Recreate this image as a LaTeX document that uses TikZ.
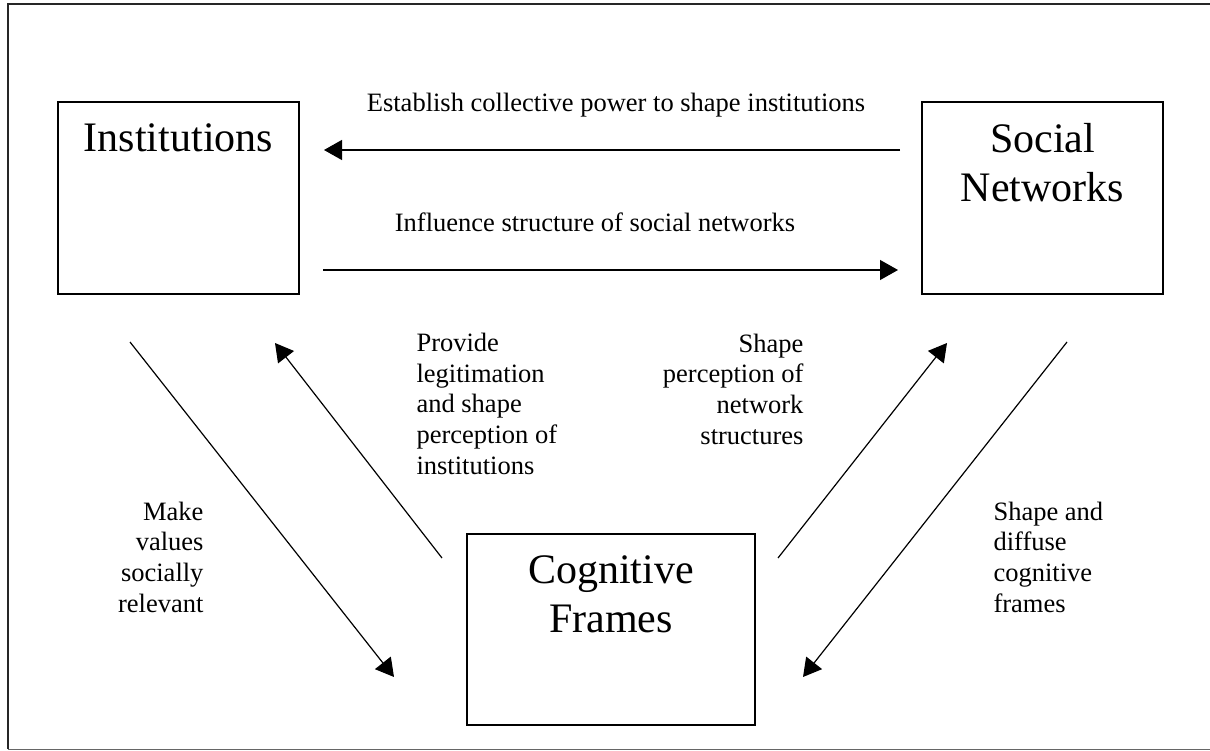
\documentclass[tikz,border=0pt]{standalone}
\usepackage{fontspec}
\setmainfont{Liberation Serif}
\usetikzlibrary{arrows.meta, positioning, calc}

\begin{document}
\begin{tikzpicture}[x=1pt, y=-1pt,
    box/.style={draw, line width=1.3pt, minimum height=192pt, inner sep=0pt},
    bigtext/.style={font=\fontsize{42}{49}\selectfont, align=center, anchor=base},
    lbl/.style={font=\fontsize{26.5}{30.6}\selectfont, anchor=base},
    link/.style={line width=1.2pt, -{Triangle[length=18pt, width=20pt]}}]
\useasboundingbox (0,0) rectangle (1210,751);
% === Outer frame ===
\draw[line width=2pt, black!85] (1212,4) -- (8,4) -- (8,749);
\draw[line width=1pt, black!60] (8,749) -- (1212,749);
% === Boxes ===
\node[box, minimum width=241pt] (inst) at (178.5,198) {};
\node[box, minimum width=241pt] (soc) at (1042.5,198) {};
\node[box, minimum width=288pt, minimum height=191pt] (cog) at (611,629.5) {};
% (base = last line of a wrapped text)
\node[bigtext, yshift=-50pt] (instT) at (inst.north) {Institutions};
\node[bigtext, yshift=-100pt] (socT) at (soc.north) {Social\\Networks};
\node[bigtext, yshift=-99pt] (cogT) at (cog.north) {Cognitive\\Frames};
% === Arrow ends ===
\coordinate (pw0) at (900,150); \coordinate (pw1) at (324,150);
\coordinate (in0) at (323,270); \coordinate (in1) at (898,270);
\coordinate (mv0) at (130,342); \coordinate (mv1) at (394,677);
\coordinate (lg0) at (442,558); \coordinate (lg1) at (275,343);
\coordinate (sp0) at (778,558); \coordinate (sp1) at (947,343);
\coordinate (df0) at (1067,342); \coordinate (df1) at (803,677);
\draw[link] (pw0) -- (pw1);
\draw[link] (in0) -- (in1);
\draw[link] (mv0) -- (mv1);
\draw[link] (lg0) -- (lg1);
\draw[link] (sp0) -- (sp1);
\draw[link] (df0) -- (df1);
% === Labels ===
\node[lbl] (pwL) at (616,112) {Establish collective power to shape institutions};
\node[lbl] (inL) at (595,232) {Influence structure of social networks};
\node[lbl, anchor=base west, align=left] (lgL) at (413,474) {Provide\\legitimation\\and shape\\perception of\\institutions};
\node[lbl, anchor=base east, align=right] (mvL) at (207,612) {Make\\values\\socially\\relevant};
\node[lbl, anchor=base east, align=right] (spL) at (807,444) {Shape\\perception of\\network\\structures};
\node[lbl, anchor=base west, align=left] (dfL) at (990,612) {Shape and\\diffuse\\cognitive\\frames};
\end{tikzpicture}
\end{document}
